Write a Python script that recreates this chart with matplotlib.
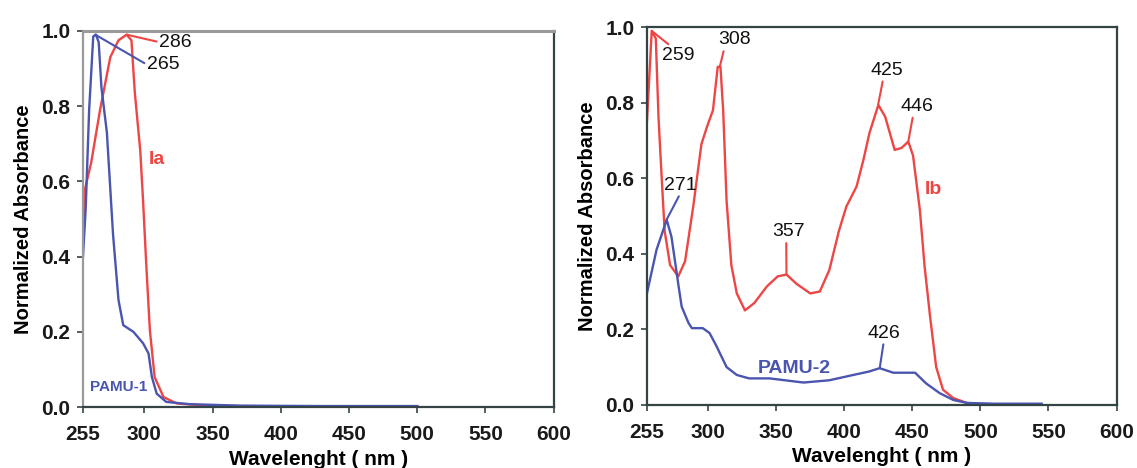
import numpy as np
import matplotlib
matplotlib.use("Agg")
import matplotlib.pyplot as plt

plt.rcParams['font.family'] = ['Liberation Sans', 'DejaVu Sans']

# ---------------- data ----------------
# left panel: Ia (red) and PAMU-1 (blue)
wl_ia = [255, 256.5, 261, 267.5, 275, 281, 287, 290.5, 293, 297, 299, 301.5,
         304, 307.5, 314, 323.5, 341, 370, 420, 500]
abs_ia = [0.46, 0.58, 0.65, 0.79, 0.93, 0.975, 0.99, 0.975, 0.835, 0.68, 0.55,
          0.37, 0.205, 0.08, 0.027, 0.01, 0.005, 0.003, 0.002, 0.002]

wl_p1 = [255, 257, 259.5, 262.5, 264.5, 266.5, 268.5, 272.5, 277, 281, 284.5,
         292, 299, 303, 305.5, 309, 316, 333, 370, 430, 500]
abs_p1 = [0.40, 0.53, 0.79, 0.985, 0.99, 0.97, 0.85, 0.73, 0.46, 0.285, 0.218,
          0.20, 0.17, 0.143, 0.08, 0.036, 0.014, 0.008, 0.004, 0.003, 0.003]

# right panel: Ib (red) and PAMU-2 (blue)
wl_ib = [255, 258.5, 261.5, 263.5, 266, 268, 272, 278, 283, 289, 295, 299,
         303.5, 307, 309, 311, 313.5, 317, 321, 327, 334, 343, 351, 357.5,
         365, 375, 382, 389, 396, 401.5, 409, 414, 418.5, 425, 430, 437, 442,
         447, 450.5, 455.5, 459, 463, 467.5, 472.5, 480, 490, 497]
abs_ib = [0.75, 0.99, 0.97, 0.76, 0.59, 0.46, 0.37, 0.34, 0.38, 0.525, 0.69,
          0.735, 0.78, 0.895, 0.895, 0.78, 0.54, 0.37, 0.295, 0.25, 0.27,
          0.313, 0.34, 0.345, 0.32, 0.295, 0.30, 0.357, 0.46, 0.525, 0.578,
          0.648, 0.72, 0.794, 0.763, 0.675, 0.68, 0.697, 0.66, 0.516, 0.366,
          0.234, 0.10, 0.04, 0.018, 0.005, 0.003]

wl_p2 = [255, 262, 269.5, 273, 275.5, 278, 280.5, 285.5, 288, 296, 301, 306,
         313.5, 321, 330, 345, 370, 389, 406.5, 418, 426, 436, 452, 460, 470,
         480, 490, 510, 545]
abs_p2 = [0.295, 0.41, 0.49, 0.445, 0.383, 0.32, 0.26, 0.217, 0.203, 0.203,
          0.19, 0.156, 0.10, 0.079, 0.07, 0.07, 0.059, 0.065, 0.079, 0.088,
          0.097, 0.085, 0.085, 0.057, 0.031, 0.013, 0.005, 0.003, 0.003]

x_ticks = [255, 300, 350, 400, 450, 500, 550, 600]
y_ticks = [0.0, 0.2, 0.4, 0.6, 0.8, 1.0]

# peak labels: (text, peak x, peak y, text x, text y, relpos, colour key)
peaks_left = [
    ("286", 287, 0.99, 311, 0.97, (0, 0.5), 'r'),
    ("265", 264, 0.99, 302, 0.91, (0, 0.5), 'b'),
]
peaks_right = [
    ("259", 258.5, 0.99, 278, 0.925, (0.3, 1), 'r'),
    ("308", 308.5, 0.895, 319, 0.966, (0.2, 0), 'r'),
    ("357", 357.5, 0.344, 359, 0.458, (0.43, 0), 'r'),
    ("425", 424.8, 0.794, 431, 0.886, (0.4, 0), 'r'),
    ("446", 447, 0.697, 453, 0.79, (0.4, 0), 'r'),
    ("271", 269.4, 0.49, 279.5, 0.582, (0.5, 0), 'b'),
    ("426", 426, 0.097, 429, 0.19, (0.5, 0), 'b'),
]

RED = '#ee4545'
BLUE = '#4a55b0'
DARK = '#344444'
LIGHT = '#9a9a9a'
cols = {'r': RED, 'b': BLUE}


def style_axes(ax, light_top_left=False):
    ax.set_xlim(255, 600)
    ax.set_ylim(0, 1.0)
    ax.set_xticks(x_ticks)
    ax.set_yticks(y_ticks)
    ax.set_yticklabels([f"{v:.1f}" for v in y_ticks])
    ax.tick_params(axis='both', direction='out', length=4, width=1.2,
                   colors=DARK, labelsize=15, labelcolor='#1a1a1a')
    ax.tick_params(axis='x', pad=9)
    ax.tick_params(axis='y', pad=5)
    for lab in ax.get_xticklabels() + ax.get_yticklabels():
        lab.set_fontweight('bold')
    for side in ['top', 'right', 'bottom', 'left']:
        ax.spines[side].set_color(DARK)
        ax.spines[side].set_linewidth(1.6)
    if light_top_left:
        ax.spines['top'].set_color(LIGHT)
        ax.spines['top'].set_linewidth(2.2)
        ax.spines['left'].set_color(LIGHT)
    ax.set_xlabel('Wavelenght ( nm )', fontsize=15, fontweight='bold',
                  labelpad=4)
    ax.set_ylabel('Normalized Absorbance', fontsize=14.5, fontweight='bold',
                  labelpad=6)


def add_peaks(ax, peaks):
    for txt, px, py, tx, ty, rel, c in peaks:
        ha = 'left' if rel[0] == 0 else 'center'
        ax.annotate(txt, xy=(px, py), xytext=(tx, ty), fontsize=14,
                    ha=ha, va='center', color='#111111',
                    arrowprops=dict(arrowstyle='-', color=cols[c], lw=1.5,
                                    shrinkA=0, shrinkB=0, relpos=rel))


fig = plt.figure(figsize=(11.37, 4.68), dpi=100)
ax1 = fig.add_axes([0.073, 0.130, 0.414, 0.804])
ax2 = fig.add_axes([0.569, 0.135, 0.413, 0.807])

# left panel
ax1.plot(wl_ia, abs_ia, color=RED, lw=1.7)
ax1.plot(wl_p1, abs_p1, color=BLUE, lw=1.7)
style_axes(ax1, light_top_left=True)
add_peaks(ax1, peaks_left)
ax1.text(309, 0.657, 'Ia', color=RED, fontsize=14, fontweight='bold',
         ha='center', va='center')
ax1.text(260, 0.053, 'PAMU-1', color=BLUE, fontsize=11, fontweight='bold',
         ha='left', va='center')

# right panel
ax2.plot(wl_ib, abs_ib, color=RED, lw=1.7)
ax2.plot(wl_p2, abs_p2, color=BLUE, lw=1.7)
style_axes(ax2)
add_peaks(ax2, peaks_right)
ax2.text(465.7, 0.569, 'Ib', color=RED, fontsize=14, fontweight='bold',
         ha='center', va='center')
ax2.text(363, 0.097, 'PAMU-2', color=BLUE, fontsize=14, fontweight='bold',
         ha='center', va='center')

fig.savefig('out.png', dpi=100)
